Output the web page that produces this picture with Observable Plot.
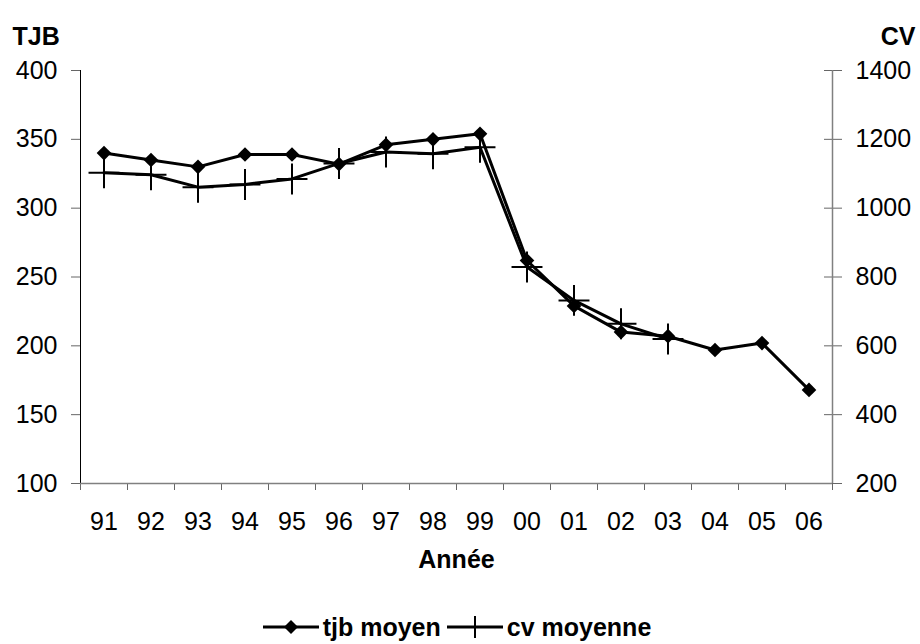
<!DOCTYPE html>
<html>
<head>
<meta charset="utf-8">
<script src="https://cdn.jsdelivr.net/npm/d3@7"></script>
<script src="https://cdn.jsdelivr.net/npm/@observablehq/plot@0.6"></script>
<style>
  body { margin: 0; background: white; font-family: "Liberation Sans", Arial, sans-serif; }
  #legend { display: flex; justify-content: center; align-items: center; height: 38px; margin-top: 8px;
            font-weight: bold; font-size: 25px; color: black; }
  #legend span { margin: 0 6px 0 4px; }
</style>
</head>
<body>
<div id="chart"></div>
<div id="legend"></div>
<script>
// Année (two-digit year labels)
const years = ["91","92","93","94","95","96","97","98","99","00","01","02","03","04","05","06"];
// TJB moyen (left axis)
const tjb = [340, 335, 330, 339, 339, 332, 346, 350, 354, 262, 229, 210, 207, 197, 202, 168];
// CV moyenne (right axis); no value after 03
const cv = [1103, 1097, 1061, 1069, 1085, 1130, 1163, 1158, 1177, 829, 732, 664, 620, null, null, null];
// Axis ticks
const tjbTicks = [100, 150, 200, 250, 300, 350, 400];
const cvTicks = [200, 400, 600, 800, 1000, 1200, 1400];

// Right axis (CV) is mapped onto the left (TJB) scale
const cvToTjb = d3.scaleLinear().domain([200, 1400]).range([100, 400]);

const rows = years.map((y, i) => ({ year: y, pos: i + 0.5, tjb: tjb[i], cv: cv[i] }));
const cvRows = rows.filter(d => d.cv != null);

const plot = Plot.plot({
  width: 920,
  height: 600,
  marginTop: 70,
  marginBottom: 117,
  marginLeft: 80,
  marginRight: 88,
  style: { fontFamily: "'Liberation Sans', Arial, sans-serif", fontSize: "25px", background: "white", color: "black" },
  x: { domain: [0, years.length], axis: null },
  y: { domain: [100, 400], axis: null },
  marks: [
    // left axis
    Plot.axisY({ anchor: "left", ticks: tjbTicks, tickSize: 9, tickPadding: 14, stroke: "#666", fill: "black", label: null }),
    // right axis, ticks crossing the axis line
    Plot.axisY({ anchor: "right", ticks: cvTicks.map(v => cvToTjb(v)), tickFormat: t => String(Math.round(cvToTjb.invert(t))),
                 tickSize: 9, tickPadding: 14, stroke: "#666", fill: "black", label: null }),
    Plot.axisY({ anchor: "right", ticks: cvTicks.map(v => cvToTjb(v)), tickFormat: () => "", tickSize: 9, dx: -9, stroke: "#666", label: null }),
    // category boundaries
    Plot.axisX({ ticks: d3.range(0, years.length + 1), tickFormat: () => "", tickSize: 7, stroke: "#666", label: null }),
    // category labels
    Plot.axisX({ ticks: rows.map(d => d.pos), tickFormat: t => years[Math.round(t - 0.5)], tickSize: 0, tickPadding: 29, fill: "black", label: null }),
    Plot.ruleX([0], { stroke: "black", strokeWidth: 1 }),
    Plot.ruleX([years.length], { stroke: "#808080", strokeWidth: 1.5 }),
    Plot.ruleY([100], { stroke: "#808080", strokeWidth: 1.5 }),
    // cv moyenne
    Plot.line(cvRows, { x: "pos", y: d => cvToTjb(d.cv), stroke: "black", strokeWidth: 3 }),
    Plot.dot(cvRows, { x: "pos", y: d => cvToTjb(d.cv), symbol: "plus", r: 10, stroke: "black", strokeWidth: 2 }),
    // tjb moyen
    Plot.line(rows, { x: "pos", y: "tjb", stroke: "black", strokeWidth: 3 }),
    Plot.dot(rows, { x: "pos", y: "tjb", symbol: "diamond2", r: 6.6, fill: "black", stroke: "none" }),
    // axis titles
    Plot.text(["TJB"], { text: d => d, frameAnchor: "top-left", dx: -68, dy: -43, textAnchor: "start", fontWeight: "bold", fontSize: 25 }),
    Plot.text(["CV"], { text: d => d, frameAnchor: "top-right", dx: 83, dy: -43, textAnchor: "end", fontWeight: "bold", fontSize: 25 }),
    Plot.text(["Année"], { text: d => d, frameAnchor: "bottom", dy: 84, fontWeight: "bold", fontSize: 25 })
  ]
});
document.getElementById("chart").appendChild(plot);

// legend
const legend = document.getElementById("legend");
legend.innerHTML = `
  <svg width="56" height="24"><line x1="0" y1="12" x2="56" y2="12" stroke="black" stroke-width="3"/>
    <path d="M28,5 L35,12 L28,19 L21,12 Z" fill="black"/></svg><span>tjb moyen</span>
  <svg width="56" height="24"><line x1="0" y1="12" x2="56" y2="12" stroke="black" stroke-width="3"/>
    <line x1="28" y1="1" x2="28" y2="23" stroke="black" stroke-width="2"/></svg><span>cv moyenne</span>`;
</script>
</body>
</html>
